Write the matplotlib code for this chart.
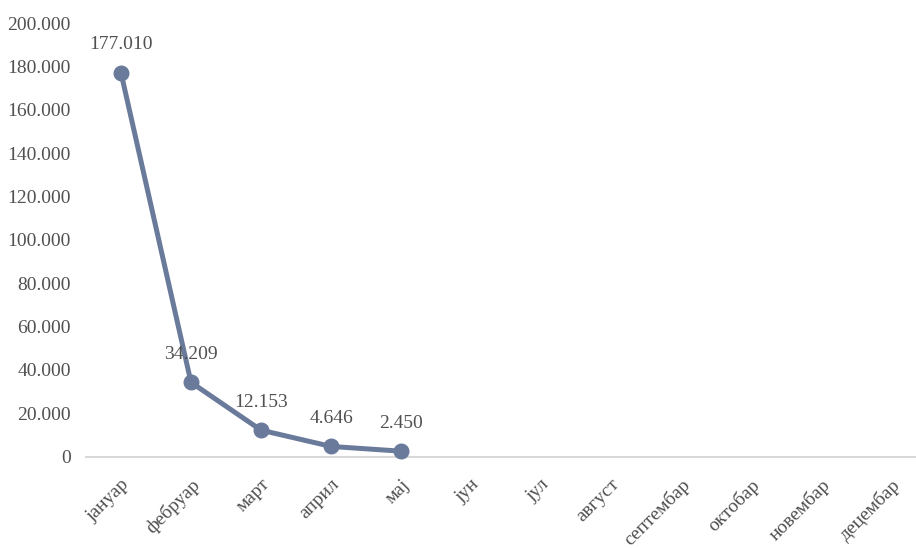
import matplotlib
matplotlib.use("Agg")
import matplotlib.pyplot as plt
from matplotlib.ticker import FuncFormatter, MultipleLocator

months = ["јануар", "фебруар", "март", "април", "мај", "јун", "јул", "август",
          "септембар", "октобар", "новембар", "децембар"]
values = [177010, 34209, 12153, 4646, 2450]
value_labels = ["177.010", "34.209", "12.153", "4.646", "2.450"]

plt.rcParams['font.family'] = ['Liberation Serif', 'DejaVu Serif']

fig = plt.figure(figsize=(9.16, 5.48), dpi=100)
W, H = 916, 548
ax = fig.add_axes([86 / W, 91.5 / H, 840 / W, 433.5 / H])

color = "#6A7A9B"
txt = "#505050"
x = list(range(len(values)))
ax.plot(x, values, color=color, linewidth=3.6, marker="o", markersize=10.5,
        solid_capstyle="round", solid_joinstyle="round", zorder=3, clip_on=False)

for xi, v, lab in zip(x, values, value_labels):
    ax.annotate(lab, (xi, v), xytext=(0, 14), textcoords="offset points",
                ha="center", va="bottom", fontsize=14, color=txt)

ax.set_xlim(-0.5, len(months) - 0.5)
ax.set_ylim(0, 200000)
ax.yaxis.set_major_locator(MultipleLocator(20000))
ax.yaxis.set_major_formatter(FuncFormatter(lambda v, p: f"{int(v):,}".replace(",", ".")))
ax.set_xticks(range(len(months)))
ax.set_xticklabels(months, rotation=45, ha="right", rotation_mode="anchor",
                   fontsize=14, color=txt)
ax.tick_params(axis="y", labelsize=14, labelcolor=txt, length=0, pad=11)
ax.tick_params(axis="x", length=0, pad=14)

for s in ["top", "right", "left"]:
    ax.spines[s].set_visible(False)
ax.spines["bottom"].set_color("#D9D9D9")
ax.spines["bottom"].set_linewidth(1.5)

fig.savefig("out.png", dpi=100)
